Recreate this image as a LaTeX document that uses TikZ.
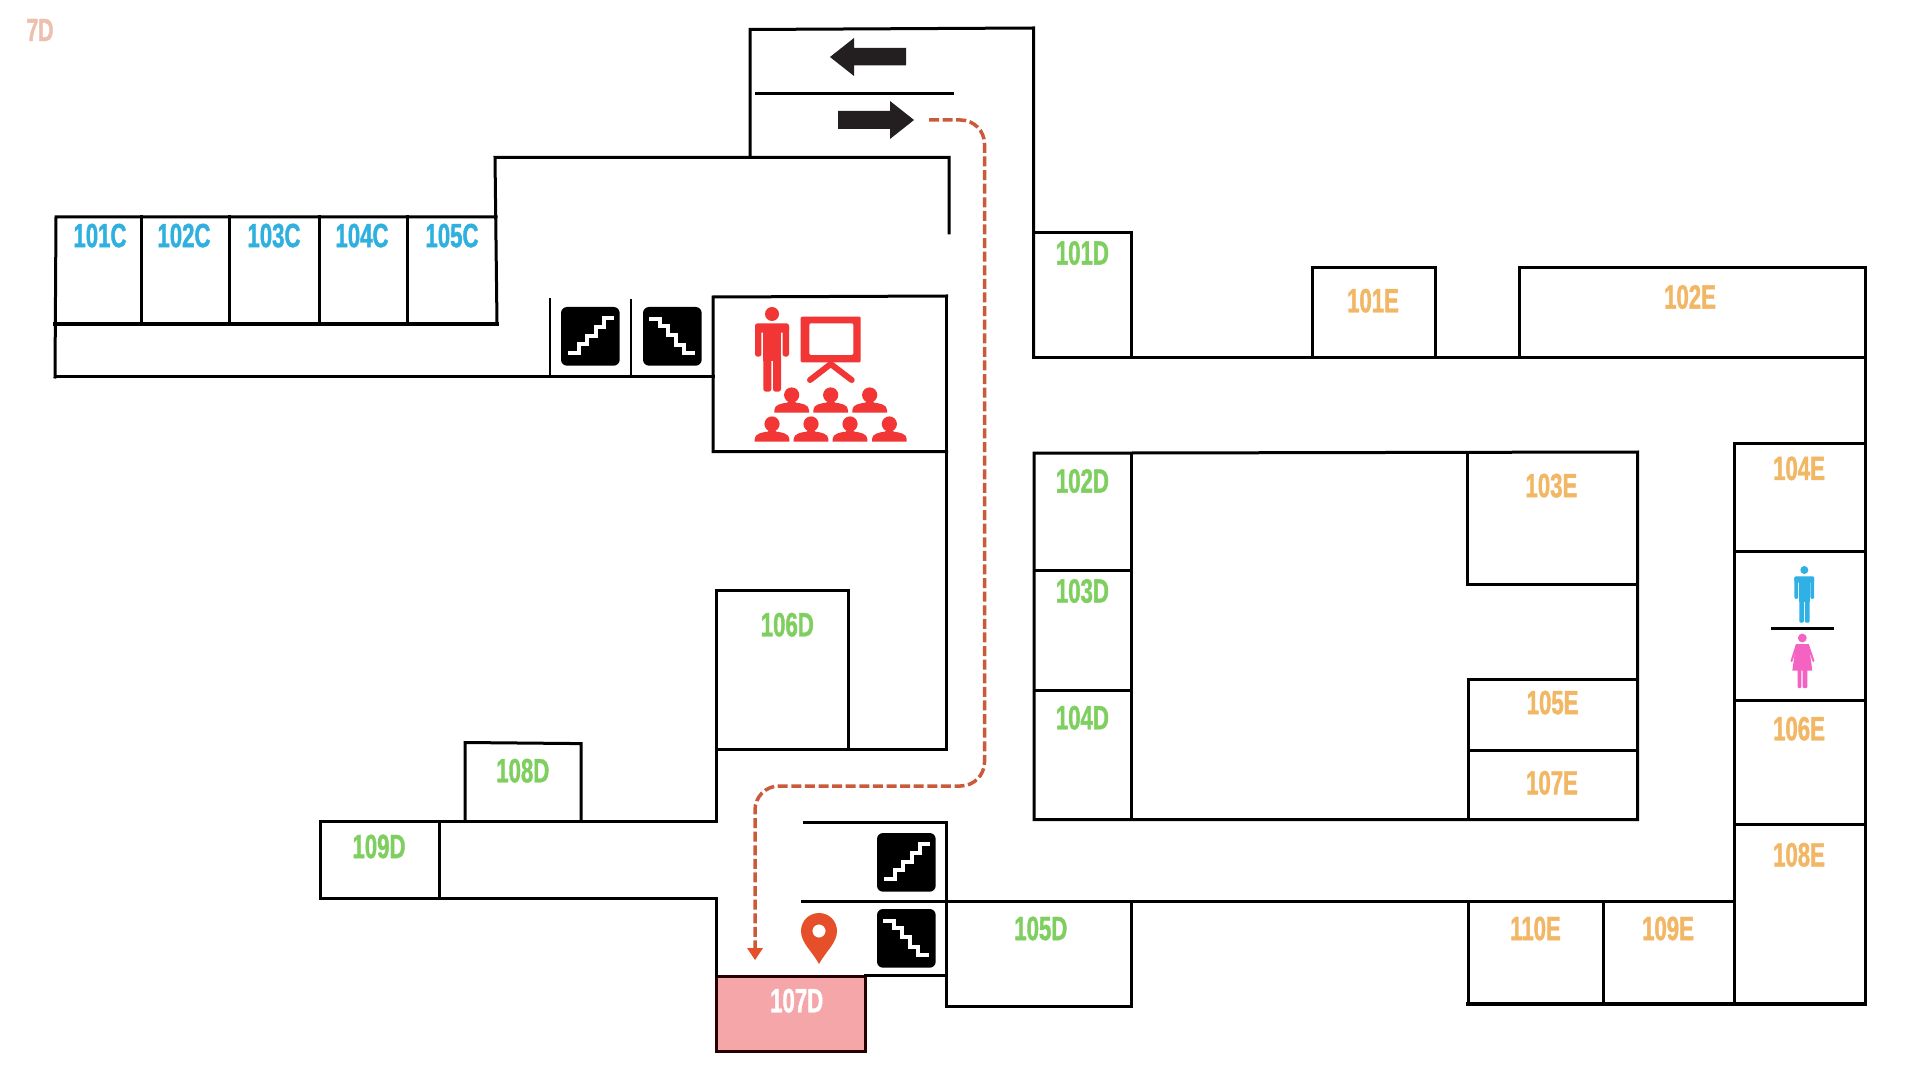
\documentclass[tikz,border=0pt]{standalone}
\usepackage{fontspec}
\newfontfamily\lab{Liberation Sans}[FakeStretch=0.66,BoldFeatures={FakeBold=1.2}]
\definecolor{cblue}{HTML}{2FB0DE}
\definecolor{dgreen}{HTML}{7FCF60}
\definecolor{eorange}{HTML}{F2B765}
\definecolor{redicon}{HTML}{F23535}
\definecolor{routec}{HTML}{CB5A3A}
\definecolor{pinc}{HTML}{E5502A}
\definecolor{roompink}{HTML}{F5A6A9}
\definecolor{manblue}{HTML}{2FB1E6}
\definecolor{womanpink}{HTML}{F462C2}
\definecolor{arrowblack}{HTML}{231F20}
\definecolor{sevend}{HTML}{EDBFAE}
\tikzset{
  wall/.style={draw=black,line width=1.5pt,line cap=rect,line join=miter},
  thin wall/.style={draw=black,line width=1.2pt,line cap=butt},
  roomlabel/.style={font=\lab\bfseries\fontsize{16.8}{18}\selectfont,inner sep=0pt},
  clab/.style={roomlabel,text=cblue},
  dlab/.style={roomlabel,text=dgreen},
  elab/.style={roomlabel,text=eorange},
  route/.style={draw=routec,line width=1.75pt,dash pattern=on 5pt off 1.8pt,rounded corners=12pt}
}
\newcommand{\upstairs}[2]{%
  \begin{scope}[shift={(#1,#2)},x=.1667pt,y=-.1667pt]
    \fill[black,rounded corners=3pt] (0,0) rectangle (176,176);
    \draw[white,line width=1.9pt,line join=miter] (21,138)--(54,138)--(54,112)--(79,112)--(79,87)--(104,87)--(104,60)--(129,60)--(129,34)--(159,34);
  \end{scope}}
\newcommand{\downstairs}[2]{%
  \begin{scope}[shift={(#1,#2)},x=.1667pt,y=-.1667pt]
    \fill[black,rounded corners=3pt] (0,0) rectangle (176,176);
    \draw[white,line width=1.9pt,line join=miter] (19,35)--(51,35)--(51,58)--(74,58)--(74,85)--(99,85)--(99,113)--(124,113)--(124,138)--(157,138);
  \end{scope}}
\newcommand{\personicon}[7]{%
  \begin{scope}[shift={(#1,#2)},x=#3pt,y=-#4pt]
    \fill[#6] (0,0) circle[radius=#5pt];
    \fill[#6,rounded corners=#7pt] (-51,28) rectangle (51,56);
    \fill[#6] (-26,40) rectangle (27,140);
    \fill[#6,rounded corners=#7pt] (-51,30) rectangle (-32,128);
    \fill[#6,rounded corners=#7pt] (32,30) rectangle (51,128);
    \fill[#6,rounded corners=#7pt] (-26,120) rectangle (-2,233);
    \fill[#6,rounded corners=#7pt] (3,120) rectangle (27,233);
  \end{scope}}
\newcommand{\audience}[2]{%
  \begin{scope}[shift={(#1,#2)},x=.1667pt,y=-.1667pt]
    \fill[redicon] (0,-53) circle[radius=3.8pt];
    \fill[redicon] (-52,0) -- (-52,-8) .. controls (-52,-24) and (-30,-28) .. (-13,-30) -- (-8,-36) -- (8,-36) -- (13,-30) .. controls (30,-28) and (52,-24) .. (52,-8) -- (52,0) -- cycle;
  \end{scope}}
\begin{document}
\begin{tikzpicture}[x=.5pt,y=-.5pt]
\useasboundingbox (0,0) rectangle (1920,1080);
\fill[white] (0,0) rectangle (1920,1080);

% 107D filled room
\fill[roompink] (716,976) rectangle (865,1051);
\draw[draw=black!85!red,line width=1.5pt,line join=miter] (716,976) rectangle (865,1051);

% C wing
\draw[wall] (55,377)--(56,217)--(496,217);
\draw[wall,line width=1.6pt] (55,324)--(497,324);
\foreach \x in {141,229,319,407} {\draw[wall] (\x,217)--(\x,324);}
\draw[wall] (497,324)--(495,157.5)--(949,157.5)--(949,233);
\draw[wall,line width=1.6pt] (56,376.5)--(713,376.5);
\draw[thin wall] (550,298)--(550,376);
\draw[thin wall] (631,299)--(631,376);

% top lift box
\draw[wall] (750,157)--(750,29.5)--(1033.5,28)--(1033.5,357.5);
\draw[wall,line cap=butt] (755,93.7)--(954,93.7);
\fill[arrowblack] (830,57)--(854,38)--(854,48)--(906,48)--(906,65.5)--(854,65.5)--(854,76)--cycle;
\fill[arrowblack] (914,120)--(890,101)--(890,111)--(838,111)--(838,129)--(890,129)--(890,139)--cycle;

% auditorium
\draw[wall] (946.5,296)--(713,297)--(713,451.7)--(946.5,451.7);
\draw[wall] (946.5,297)--(946.5,749);

% 106D, 108D, 109D
\draw[wall] (716,821.4)--(716,590.6)--(848.5,590.6);
\draw[wall] (848.5,590.6)--(848.5,749);
\draw[wall] (716,749)--(946.5,749);
\draw[wall] (465,821)--(465,742.5)--(581,743.6)--(581,821);
\draw[wall] (716,821.4)--(320,821.4)--(320,898.5)--(716,898.5)--(716,976);
\draw[wall] (439,821.4)--(439,898.5);

% stair block and lower corridor
\draw[wall,line cap=butt] (803,822.7)--(946.5,822.7);
\draw[wall] (946.5,822.7)--(946.5,1006)--(1131.5,1006)--(1131.5,901.6);
\draw[wall] (865,975.3)--(946.5,975.3);
\draw[wall,line width=1.7pt,line cap=butt] (801,901.6)--(1734.5,901.6);

% D and E wings, right
\draw[wall] (1033.5,233)--(1131.4,233)--(1131.4,357.5);
\draw[wall,line width=1.6pt] (1033.5,357.5)--(1865,357.5);
\draw[wall] (1312,357.5)--(1312,267.6)--(1435,267.6)--(1435,357.5);
\draw[wall] (1519,357.5)--(1519,267.6)--(1865,267.6)--(1865,1004);
\draw[wall] (1131.5,453)--(1034,453)--(1034,819.7)--(1637.7,819.7)--(1637.7,452)--(1131.5,453);
\draw[wall] (1131.5,453)--(1131.5,819.7);
\draw[wall] (1034,570.6)--(1131.5,570.6);
\draw[wall] (1034,690.8)--(1129,690.8);
\draw[wall] (1467,452.5)--(1467,584.8)--(1637.7,584.8);
\draw[wall] (1468,819.7)--(1468,679)--(1637.7,679);
\draw[wall] (1468,750.8)--(1637.7,750.8);
\draw[wall] (1734.4,1004)--(1734.4,443.6)--(1865,443.6);
\draw[wall] (1734.4,551)--(1865,551);
\draw[wall] (1734.4,700.8)--(1864,700.8);
\draw[wall] (1734.4,824)--(1864,824);
\draw[wall,line cap=butt] (1771,628.5)--(1833.6,628.5);
\draw[wall] (1468,901.6)--(1468,1004);
\draw[wall] (1603.4,901.6)--(1603.4,1004);
\draw[wall,line width=1.7pt] (1468,1004)--(1865,1004);

% stair icons
\upstairs{561}{307}
\downstairs{643}{307}
\upstairs{877}{833}
\downstairs{877}{909}

% auditorium icon
\personicon{772}{314}{.1667}{.1667}{3.5}{redicon}{1.3}
\begin{scope}[shift={(700,290)},x=.1667pt,y=-.1667pt]
  \fill[redicon,even odd rule,rounded corners=.6pt] (302,80) rectangle (482,217) (328,100) rectangle (460,195);
  \draw[redicon,line width=3pt,line cap=round,line join=round] (330,270)--(392,222)--(455,270);
\end{scope}
\foreach \x in {275,392,509} {\audience{700+\x/3}{290+368/3}}
\foreach \x in {216,333,450,568} {\audience{700+\x/3}{290+455/3}}

% restroom icons
\personicon{1804.3}{570}{.0964}{.113}{2}{manblue}{.6}
\fill[womanpink] (1802.3,638) circle[radius=2.2pt];
\fill[womanpink,line join=round] (1796,644) -- (1808.7,644) -- (1812.3,670.7) -- (1792.3,670.7) -- cycle;
\draw[womanpink,line width=1pt,line cap=round] (1796.5,645.5)--(1791.5,661);
\draw[womanpink,line width=1pt,line cap=round] (1808.2,645.5)--(1813.5,661);
\fill[womanpink,rounded corners=.5pt] (1797.5,668) rectangle (1801.3,688);
\fill[womanpink,rounded corners=.5pt] (1802.7,668) rectangle (1807.3,688);

% map pin
\fill[pinc,even odd rule] (819,964) .. controls (812,951) and (801,943) .. (801,931) .. controls (801,921) and (809,913) .. (819,913) .. controls (829,913) and (837,921) .. (837,931) .. controls (837,943) and (826,951) .. (819,964) -- cycle (819,931) circle[radius=3.3pt];

% route
\coordinate (routestart) at (929,120);
\coordinate (routeend) at (755,948);
\draw[route] (routestart) -- (984.5,120) -- (984.5,786) -- (755,786) -- (routeend);
\fill[pinc] (747,948)--(763,948)--(755,960)--cycle;

% labels
\node[roomlabel,text=sevend,font=\lab\bfseries\fontsize{16}{17}\selectfont] (l7d) at (40,30) {7D};
\node[clab] (l101c) at (100,235.6) {101C};
\node[clab] (l102c) at (184,235.6) {102C};
\node[clab] (l103c) at (274,235.6) {103C};
\node[clab] (l104c) at (362,235.6) {104C};
\node[clab] (l105c) at (452,235.6) {105C};
\node[dlab] (l101d) at (1082.4,253) {101D};
\node[dlab] (l102d) at (1082.4,481) {102D};
\node[dlab] (l103d) at (1082.4,591) {103D};
\node[dlab] (l104d) at (1082.4,717.7) {104D};
\node[dlab] (l105d) at (1040.8,928.5) {105D};
\node[dlab] (l106d) at (787.3,624.7) {106D};
\node[roomlabel,text=white] (l107d) at (796.7,1000.7) {107D};
\node[dlab] (l108d) at (522.8,770.7) {108D};
\node[dlab] (l109d) at (379,846.5) {109D};
\node[elab] (l101e) at (1373,300.7) {101E};
\node[elab] (l102e) at (1690,297) {102E};
\node[elab] (l103e) at (1551.4,485.6) {103E};
\node[elab] (l104e) at (1799,468.4) {104E};
\node[elab] (l105e) at (1552.6,702.6) {105E};
\node[elab] (l106e) at (1799,728.7) {106E};
\node[elab] (l107e) at (1552,782.8) {107E};
\node[elab] (l108e) at (1799,854.8) {108E};
\node[elab] (l109e) at (1668,928.5) {109E};
\node[elab] (l110e) at (1535.5,928.5) {110E};
\end{tikzpicture}
\end{document}
